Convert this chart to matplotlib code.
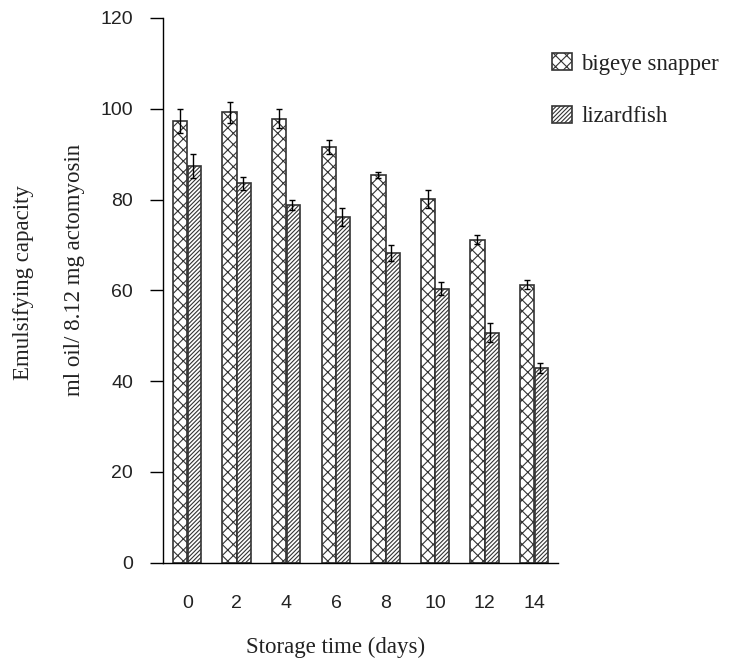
import matplotlib
matplotlib.use('Agg')
import matplotlib.pyplot as plt
import numpy as np

# emulsifying capacity of actomyosin during iced storage
days = ['0', '2', '4', '6', '8', '10', '12', '14']
bigeye = [97.3, 99.2, 97.8, 91.6, 85.4, 80.1, 71.1, 61.2]
bigeye_err = [2.6, 2.4, 2.1, 1.6, 0.6, 2.0, 1.0, 1.0]
lizard = [87.4, 83.6, 78.9, 76.1, 68.2, 60.4, 50.7, 42.9]
lizard_err = [2.6, 1.4, 1.1, 2.0, 1.7, 1.4, 2.0, 1.0]

plt.rcParams['hatch.linewidth'] = 0.8
serif = 'Liberation Serif'
sans = 'Liberation Sans'

fig = plt.figure(figsize=(7.3, 6.61), dpi=100)
ax = fig.add_axes([0.2233, 0.1487, 0.5411, 0.8241])

x = np.arange(len(days))
w = 0.29

ax.bar(x - w / 2, bigeye, w, color='white', edgecolor='#333333',
       linewidth=1.2, hatch='xxx', label='bigeye snapper')
ax.bar(x + w / 2, lizard, w * 0.95, color='white', edgecolor='#333333',
       linewidth=1.2, hatch='////////', label='lizardfish')
ax.errorbar(x - w / 2, bigeye, yerr=bigeye_err, fmt='none', ecolor='black',
            elinewidth=1.0, capsize=2.5, capthick=1.0)
ax.errorbar(x + w / 2 - 0.03, lizard, yerr=lizard_err, fmt='none', ecolor='black',
            elinewidth=1.0, capsize=2.5, capthick=1.0)

ax.set_xlim(-0.49, 7.48)
ax.set_ylim(0, 120)
ax.set_yticks(np.arange(0, 121, 20))
ax.set_xticks(x)
ax.set_xticklabels(days)

for s in ['top', 'right']:
    ax.spines[s].set_visible(False)
for s in ['left', 'bottom']:
    ax.spines[s].set_linewidth(1.0)
    ax.spines[s].set_color('black')

ax.tick_params(axis='y', direction='out', length=9.5, width=1.0, pad=12,
               labelsize=14)
ax.tick_params(axis='x', length=0, pad=23, labelsize=14)
for lab in ax.get_xticklabels() + ax.get_yticklabels():
    lab.set_fontfamily(sans)
    lab.set_color('#222222')

fig.text(336 / 730, 1 - 647 / 661, 'Storage time (days)', family=serif,
         fontsize=16.5, ha='center', va='center', color='#222222')
fig.text(24 / 730, 1 - 283 / 661, 'Emulsifying capacity', family=serif,
         fontsize=16.5, rotation=90, ha='center', va='center', color='#222222')
fig.text(74.5 / 730, 1 - 270 / 661, 'ml oil/ 8.12 mg actomyosin', family=serif,
         fontsize=16.5, rotation=90, ha='center', va='center', color='#222222')

leg = ax.legend(loc='upper left', bbox_to_anchor=(541 / 730, 1 - 42 / 661),
                bbox_transform=fig.transFigure, frameon=False, borderpad=0,
                handlelength=0.85, handleheight=0.75, handletextpad=0.4,
                labelspacing=1.35, prop={'family': serif, 'size': 16.5})
for t in leg.get_texts():
    t.set_color('#222222')

fig.savefig('out.png', dpi=100)
